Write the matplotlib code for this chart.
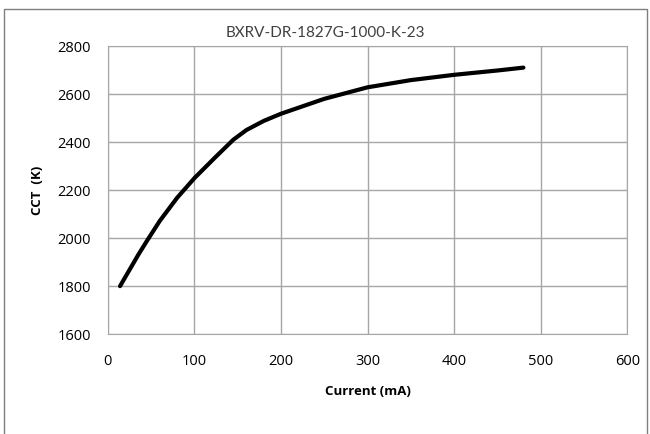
import numpy as np
import matplotlib.pyplot as plt
from matplotlib.patches import Rectangle

# current (mA) vs CCT (K)
current = [14, 25, 35, 45, 60, 80, 100, 125, 145, 160, 180, 200, 250, 300, 350, 400, 450, 480]
cct = [1800, 1868, 1930, 1988, 2072, 2168, 2250, 2340, 2410, 2450, 2488, 2518, 2580, 2628, 2658, 2680, 2698, 2710]

xticks = [0, 100, 200, 300, 400, 500, 600]
yticks = [1600, 1800, 2000, 2200, 2400, 2600, 2800]

fig = plt.figure(figsize=(6.5, 4.34), dpi=100)
ax = fig.add_axes([0.166, 0.230, 0.799, 0.664])

# outer chart border
fig.patches.append(Rectangle((0.006, -0.01), 0.99, 0.99, transform=fig.transFigure,
                             fill=False, edgecolor='#7f7f7f', linewidth=1))

ax.plot(current, cct, color='black', linewidth=3, solid_capstyle='round')

ax.set_xlim(0, 600)
ax.set_ylim(1600, 2800)
ax.set_xticks(xticks)
ax.set_yticks(yticks)
ax.grid(True, color='#a6a6a6', linewidth=1)
ax.set_axisbelow(True)
for s in ax.spines.values():
    s.set_color('#a6a6a6')
ax.tick_params(length=0, labelsize=10.5, colors='black')
ax.tick_params(axis='x', pad=14)
ax.tick_params(axis='y', pad=12)
for lab in ax.get_xticklabels() + ax.get_yticklabels():
    lab.set_fontfamily('Open Sans')

ax.set_xlabel('Current (mA)', fontsize=9.5, fontweight='bold', family='Open Sans', labelpad=12)
ax.set_ylabel('CCT  (K)', fontsize=9.5, fontweight='bold', family='Open Sans', labelpad=10)
fig.text(0.5, 0.925, 'BXRV-DR-1827G-1000-K-23', ha='center', va='center',
         fontsize=11, color='#404040', family='Lato')

fig.savefig('out.png', dpi=100)
